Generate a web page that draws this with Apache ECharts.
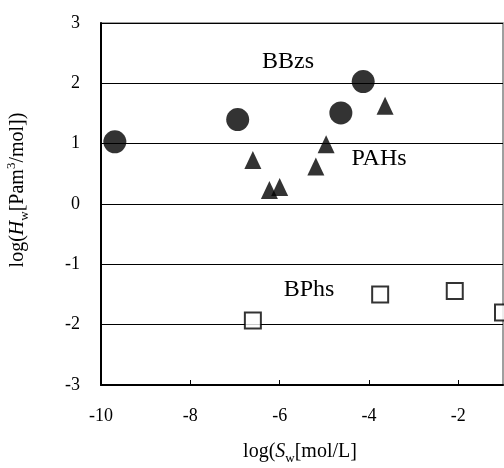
<!DOCTYPE html>
<html>
<head>
<meta charset="utf-8">
<script src="https://cdn.jsdelivr.net/npm/echarts@6/dist/echarts.min.js"></script>
<style>html,body{margin:0;padding:0;background:#fff;}#c{width:504px;height:468px;}</style>
</head>
<body>
<div id="c"></div>
<script>
// Data
var bbzsX = [-9.69, -6.94, -4.63, -4.13];
var bbzsY = [1.03, 1.40, 1.51, 2.03];
var pahsX = [-6.60, -6.23, -6.00, -5.19, -4.96, -3.64];
var pahsY = [0.73, 0.23, 0.28, 0.62, 0.99, 1.63];
var bphsX = [-6.60, -3.75, -2.08, -1.00];
var bphsY = [-1.93, -1.50, -1.44, -1.80];
var xTicks = [-10, -8, -6, -4, -2];
var yTicks = [-3, -2, -1, 0, 1, 2, 3];
var groupNames = ['BBzs', 'PAHs', 'BPhs'];

function pairs(xs, ys) { return xs.map(function (x, i) { return [x, ys[i]]; }); }

var FONT = '"Liberation Serif", "Times New Roman", serif';
var chart = echarts.init(document.getElementById('c'), null, {renderer: 'canvas'});
chart.setOption({
  animation: false,
  backgroundColor: '#fff',
  grid: {left: 101, right: 1, top: 23, bottom: 83, show: true, borderColor: '#808080', borderWidth: 1.5},
  xAxis: {
    type: 'value', min: -10, max: -1, interval: 2,
    axisLine: {show: true, onZero: false, lineStyle: {color: '#000', width: 2}},
    axisTick: {show: true, inside: true, length: 5, lineStyle: {color: '#000'}},
    splitLine: {show: false},
    axisLabel: {
      showMaxLabel: false, margin: 22, color: '#000', fontFamily: FONT, fontSize: 18,
      formatter: function (v) { return xTicks.indexOf(v) >= 0 ? String(v) : ''; }
    }
  },
  yAxis: {
    type: 'value', min: -3, max: 3, interval: 1,
    axisLine: {show: true, onZero: false, lineStyle: {color: '#000', width: 2}},
    axisTick: {show: false},
    splitLine: {show: true, lineStyle: {color: '#000', width: 1}},
    axisLabel: {
      margin: 21, color: '#000', fontFamily: FONT, fontSize: 18,
      formatter: function (v) { return yTicks.indexOf(v) >= 0 ? String(v) : ''; }
    }
  },
  series: [
    {name: groupNames[0], type: 'scatter', data: pairs(bbzsX, bbzsY), symbol: 'circle', symbolSize: 23,
     itemStyle: {color: '#000'}, clip: false, z: 3},
    {name: groupNames[1], type: 'scatter', data: pairs(pahsX, pahsY), symbol: 'triangle', symbolSize: [17, 18],
     itemStyle: {color: '#000'}, clip: false, z: 3},
    {name: groupNames[2], type: 'scatter', data: pairs(bphsX, bphsY), symbol: 'rect', symbolSize: 16,
     itemStyle: {color: '#fff', borderColor: '#000', borderWidth: 2}, clip: false, z: 3}
  ],
  graphic: [
    {type: 'text', x: 288, y: 62, z: 10, style: {text: groupNames[0], font: '24px ' + FONT, fill: '#000', align: 'center', verticalAlign: 'middle'}},
    {type: 'text', x: 379, y: 159, z: 10, style: {text: groupNames[1], font: '24px ' + FONT, fill: '#000', align: 'center', verticalAlign: 'middle'}},
    {type: 'text', x: 309, y: 290, z: 10, style: {text: groupNames[2], font: '24px ' + FONT, fill: '#000', align: 'center', verticalAlign: 'middle'}},
    {type: 'text', x: 300, y: 452, z: 10, style: {
      text: '{a|log(}{i|S}{s|w}{a|[mol/L]}',
      align: 'center', verticalAlign: 'middle', fill: '#000',
      rich: {
        a: {fontFamily: FONT, fontSize: 20, lineHeight: 26, verticalAlign: 'middle', fill: '#000'},
        i: {fontFamily: FONT, fontSize: 20, fontStyle: 'italic', lineHeight: 26, verticalAlign: 'middle', fill: '#000'},
        s: {fontFamily: FONT, fontSize: 13, lineHeight: 26, verticalAlign: 'bottom', fill: '#000'}
      }
    }},
    {type: 'text', x: 18, y: 190, rotation: Math.PI / 2, z: 10, style: {
      text: '{a|log(}{i|H}{s|w}{a|[Pam}{p|3}{a|/mol])}',
      align: 'center', verticalAlign: 'middle', fill: '#000',
      rich: {
        a: {fontFamily: FONT, fontSize: 20, lineHeight: 26, verticalAlign: 'middle', fill: '#000'},
        i: {fontFamily: FONT, fontSize: 20, fontStyle: 'italic', lineHeight: 26, verticalAlign: 'middle', fill: '#000'},
        s: {fontFamily: FONT, fontSize: 13, lineHeight: 26, verticalAlign: 'bottom', fill: '#000'},
        p: {fontFamily: FONT, fontSize: 13, lineHeight: 26, verticalAlign: 'top', fill: '#000'}
      }
    }}
  ]
});
</script>
</body>
</html>
